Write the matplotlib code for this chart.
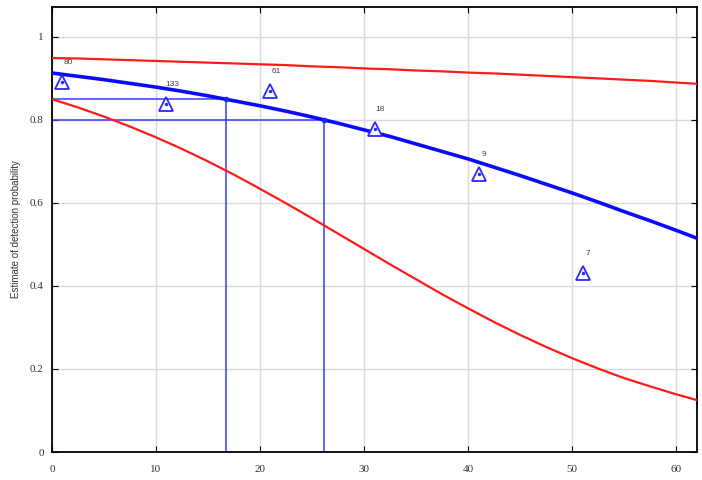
import matplotlib
matplotlib.use("Agg")
import matplotlib.pyplot as plt

# Curves
curve_x = [0, 2.5, 5, 7.5, 10, 12.5, 15, 17.5, 20, 22.5, 25, 27.5, 30, 32.5, 35,
           37.5, 40, 42.5, 45, 47.5, 50, 52.5, 55, 57.5, 60, 62]
blue_y = [0.913, 0.905, 0.897, 0.888, 0.879, 0.869, 0.858, 0.846, 0.834, 0.821,
          0.807, 0.792, 0.776, 0.760, 0.742, 0.724, 0.706, 0.686, 0.666, 0.645,
          0.624, 0.602, 0.579, 0.557, 0.534, 0.515]
red_low_y = [0.850, 0.830, 0.808, 0.784, 0.758, 0.730, 0.700, 0.668, 0.634, 0.599,
             0.563, 0.526, 0.489, 0.452, 0.416, 0.380, 0.346, 0.313, 0.282, 0.253,
             0.226, 0.201, 0.178, 0.158, 0.139, 0.125]
red_up_y = [0.949, 0.948, 0.946, 0.944, 0.942, 0.940, 0.938, 0.936, 0.934, 0.932,
            0.929, 0.927, 0.924, 0.922, 0.919, 0.917, 0.914, 0.912, 0.909, 0.906,
            0.903, 0.900, 0.897, 0.894, 0.890, 0.887]

# Observed points with counts
pt_x = [1, 11, 21, 31, 41, 51]
pt_y = [0.892, 0.839, 0.870, 0.778, 0.670, 0.431]
pt_n = ["80", "133", "61", "18", "9", "7"]

# Reference levels
ref_p = [0.85, 0.80]
ref_x = [16.7, 26.1]

fig = plt.figure(figsize=(7.02, 4.80), dpi=100)
ax = fig.add_axes([52/702, 28/480, 645/702, 445/480])

ax.set_xlim(0, 62)
ax.set_ylim(0, 1.072)
ax.set_xticks([0, 10, 20, 30, 40, 50, 60])
ax.set_yticks([0, 0.2, 0.4, 0.6, 0.8, 1.0])
ax.set_yticklabels(["0", "0.2", "0.4", "0.6", "0.8", "1"])
ax.grid(True, color="#d9d9d9", linewidth=1.0)
ax.set_axisbelow(True)
ax.tick_params(direction="in", top=True, right=True, length=4, width=0.8,
               labelsize=8)
ax.tick_params(axis="x", pad=9)
ax.tick_params(axis="y", pad=6)
for lab in ax.get_xticklabels() + ax.get_yticklabels():
    lab.set_fontfamily("Liberation Serif")
    lab.set_color("#333333")
for s in ax.spines.values():
    s.set_linewidth(1.3)

for p, xv in zip(ref_p, ref_x):
    ax.plot([0, xv], [p, p], color="#3b3bff", linewidth=1.1, zorder=2)
    ax.plot([xv, xv], [0, p], color="#3b3bff", linewidth=1.1, zorder=2)
    ax.plot([xv], [p], marker="o", color="#2020ff", markersize=3, zorder=4)

ax.plot(curve_x, red_up_y, color="#ff1a1a", linewidth=1.6, zorder=3)
ax.plot(curve_x, red_low_y, color="#ff1a1a", linewidth=1.6, zorder=3)
ax.plot(curve_x, blue_y, color="#0a0aff", linewidth=2.6, zorder=3)

ax.plot(pt_x, pt_y, linestyle="none", marker="^", markersize=9.5,
        markerfacecolor="white", markeredgecolor="#2a2aff", markeredgewidth=1.3, zorder=5)
ax.plot(pt_x, pt_y, linestyle="none", marker="o", markersize=1.5,
        color="#2a2aff", zorder=6)
for xv, yv, n in zip(pt_x, pt_y, pt_n):
    ax.annotate(n, (xv, yv), xytext=(4, 14), textcoords="offset points",
                fontsize=6, color="#444444", ha="center", va="center",
                fontfamily="Liberation Sans")

ax.set_ylabel("Estimate of detection probability", fontsize=7, color="#333333",
              fontfamily="Liberation Sans", labelpad=6)

fig.savefig("out.png", dpi=100)
